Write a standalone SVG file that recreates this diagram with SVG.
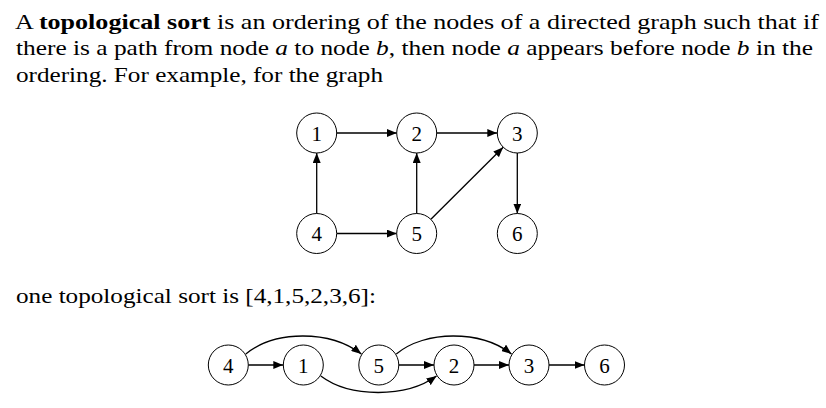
<svg xmlns="http://www.w3.org/2000/svg" width="826" height="408" viewBox="0 0 826 408">
<defs>
<style>
.t{font-family:"Liberation Serif","DejaVu Serif",serif;font-size:21px;fill:#000}
.b{font-weight:bold}
.i{font-style:italic}
.n circle{fill:#fff;stroke:#000;stroke-width:1}
.n text{font-family:"Liberation Serif","DejaVu Serif",serif;font-size:21px;text-anchor:middle;fill:#000}
.e path{fill:none;stroke:#000;stroke-width:1.3;marker-end:url(#ah)}
</style>
<marker id="ah" viewBox="0 0 10 8" refX="10" refY="4" markerWidth="10" markerHeight="8" markerUnits="userSpaceOnUse" orient="auto">
<path d="M0,0 L10,4 L0,8 Z" fill="#000"/>
</marker>
</defs>
<rect width="826" height="408" fill="#fff"/>
<g id="text">
<text class="t" x="15" y="28.5" textLength="804" lengthAdjust="spacingAndGlyphs">A <tspan class="b">topological sort</tspan> is an ordering of the nodes of a directed graph such that if</text>
<text class="t" x="16" y="55" textLength="797" lengthAdjust="spacingAndGlyphs">there is a path from node <tspan class="i">a</tspan> to node <tspan class="i">b</tspan>, then node <tspan class="i">a</tspan> appears before node <tspan class="i">b</tspan> in the</text>
<text class="t" x="16" y="81.5" textLength="367" lengthAdjust="spacingAndGlyphs">ordering. For example, for the graph</text>
<text class="t" x="16" y="302.5" textLength="360" lengthAdjust="spacingAndGlyphs">one topological sort is [4,1,5,2,3,6]:</text>
</g>
<g id="edges" class="e">
<path d="M336.7,133 L396.7,133"/>
<path d="M436.7,133 L497.3,133"/>
<path d="M316.7,213.5 L316.7,153"/>
<path d="M416.7,213.5 L416.7,153"/>
<path d="M430.9,219.3 L503.2,147.2"/>
<path d="M517.3,153 L517.3,213.5"/>
<path d="M336.7,233.5 L396.7,233.5"/>
<path d="M248.3,365 L283.3,365"/>
<path d="M398.8,365 L434,365"/>
<path d="M474,365 L509,365"/>
<path d="M549,365 L584.5,365"/>
<path d="M245.8,354 C275,330 330,330 361.4,354"/>
<path d="M396.3,354 C425,330 481,330 511.5,354"/>
<path d="M320.8,376 C350,398 406,398 436.5,376"/>
</g>
<g id="n1" class="n"><circle cx="316.7" cy="133" r="20"/><text x="316.7" y="140.5">1</text></g>
<g id="n2" class="n"><circle cx="416.7" cy="133" r="20"/><text x="416.7" y="140.5">2</text></g>
<g id="n3" class="n"><circle cx="517.3" cy="133" r="20"/><text x="517.3" y="140.5">3</text></g>
<g id="n4" class="n"><circle cx="316.7" cy="233.5" r="20"/><text x="316.7" y="241">4</text></g>
<g id="n5" class="n"><circle cx="416.7" cy="233.5" r="20"/><text x="416.7" y="241">5</text></g>
<g id="n6" class="n"><circle cx="517.3" cy="233.5" r="20"/><text x="517.3" y="241">6</text></g>
<g id="s4" class="n"><circle cx="228.3" cy="365" r="20"/><text x="228.3" y="372.5">4</text></g>
<g id="s1" class="n"><circle cx="303.3" cy="365" r="20"/><text x="303.3" y="372.5">1</text></g>
<g id="s5" class="n"><circle cx="378.8" cy="365" r="20"/><text x="378.8" y="372.5">5</text></g>
<g id="s2" class="n"><circle cx="454" cy="365" r="20"/><text x="454" y="372.5">2</text></g>
<g id="s3" class="n"><circle cx="529" cy="365" r="20"/><text x="529" y="372.5">3</text></g>
<g id="s6" class="n"><circle cx="604.5" cy="365" r="20"/><text x="604.5" y="372.5">6</text></g>
</svg>
